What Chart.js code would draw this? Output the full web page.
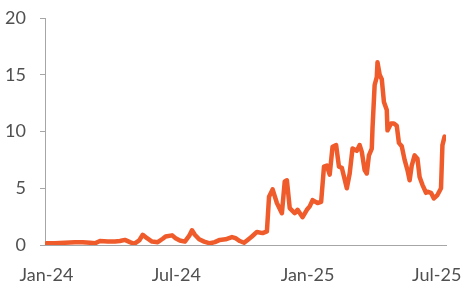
<!DOCTYPE html>
<html lang="en">
<head>
    <meta charset="UTF-8">
    <title>Series</title>
    <style>
        body, html {
            margin: 0;
            padding: 0;
            background: #ffffff;
            overflow: hidden;
        }
        .chart-container {
            width: 475px;
            height: 289px;
        }
    </style>
</head>
<body>
<div class="chart-container">
    <canvas id="myChart"></canvas>
</div>

<script src="https://cdn.jsdelivr.net/npm/chart.js"></script>
<script>

// days since 1 Jan 2024
const days = [0, 12, 26, 40, 51, 61, 68, 75, 86, 96, 103, 110, 117, 123, 130, 135, 141, 148, 156, 163,
    167, 176, 181, 187, 194, 200, 204, 208, 214, 221, 229, 236, 243, 251, 260, 265, 271, 277, 282, 288,
    295, 303, 309, 312, 317, 323, 330, 334, 337, 341, 348, 352, 359, 365, 369, 373, 380, 385, 389, 393,
    397, 401, 406, 410, 414, 421, 425, 429, 435, 439, 442, 446, 449, 452, 456, 457, 460, 463, 464, 467,
    470, 473, 477, 478, 483, 487, 491, 494, 498, 502, 506, 509, 512, 516, 520, 523, 527, 532, 534, 539,
    543, 548, 553, 555, 558];

const values = [0.15, 0.15, 0.2, 0.25, 0.25, 0.2, 0.15, 0.35, 0.3, 0.3, 0.35, 0.45, 0.25, 0.1, 0.4, 0.9, 0.6, 0.3, 0.25, 0.55,
    0.75, 0.85, 0.6, 0.4, 0.3, 0.8, 1.3, 0.9, 0.5, 0.3, 0.15, 0.25, 0.45, 0.5, 0.7, 0.6, 0.35, 0.2, 0.45, 0.75,
    1.15, 1.05, 1.2, 4.25, 4.9, 3.7, 2.8, 5.6, 5.7, 3.25, 2.8, 3.1, 2.45, 3.1, 3.4, 3.95, 3.7, 3.8, 6.9, 7.0,
    6.2, 8.66, 8.8, 6.9, 6.8, 5.0, 6.3, 8.5, 8.3, 8.8, 8.2, 6.6, 6.3, 7.9, 8.5, 10.3, 14.1, 14.8, 16.1, 15.0,
    14.6, 12.6, 11.9, 10.1, 10.7, 10.7, 10.5, 9.0, 8.7, 7.5, 6.6, 5.7, 7.0, 7.9, 7.6, 6.0, 5.3, 4.6, 4.7, 4.6,
    4.1, 4.4, 5.0, 8.8, 9.55];

// x tick positions (days) and their labels
const tickDays = [0, 182, 366, 547];
const tickLabels = ['Jan-24', 'Jul-24', 'Jan-25', 'Jul-25'];

const yTicks = [0, 5, 10, 15, 20];

const points = days.map((d, i) => ({ x: d, y: values[i] }));

const axisColor = '#a6a6a6';
const textColor = '#505050';
const fontFamily = 'Lato, "Liberation Sans", sans-serif';

const ctx = document.getElementById('myChart').getContext('2d');
new Chart(ctx, {
    type: 'line',
    data: {
        datasets: [{
            data: points,
            borderColor: '#ef5b2b',
            borderWidth: 4.5,
            pointRadius: 0,
            tension: 0,
            fill: false,
            borderJoinStyle: 'round',
            borderCapStyle: 'round'
        }]
    },
    options: {
        responsive: true,
        maintainAspectRatio: false,
        animation: false,
        layout: {
            padding: { left: 0, right: 29, top: 18, bottom: 0 }
        },
        plugins: {
            legend: { display: false },
            tooltip: { enabled: false }
        },
        scales: {
            x: {
                type: 'linear',
                min: -2,
                max: 560,
                afterBuildTicks: axis => {
                    axis.ticks = tickDays.map(v => ({ value: v }));
                },
                afterFit: axis => {
                    axis.height = 44;
                    axis.paddingLeft = 0;
                    axis.paddingRight = 0;
                },
                ticks: {
                    autoSkip: false,
                    maxRotation: 0,
                    padding: 11,
                    color: textColor,
                    font: { family: fontFamily, size: 18 },
                    callback: value => tickLabels[tickDays.indexOf(value)]
                },
                grid: { display: false },
                border: { display: true, color: axisColor, width: 1 }
            },
            y: {
                min: 0,
                max: 20,
                afterBuildTicks: axis => {
                    axis.ticks = yTicks.map(v => ({ value: v }));
                },
                afterFit: axis => {
                    axis.width = 45;
                    axis.paddingTop = 0;
                    axis.paddingBottom = 0;
                },
                ticks: {
                    padding: 14,
                    color: textColor,
                    font: { family: fontFamily, size: 18 }
                },
                grid: {
                    drawOnChartArea: false,
                    drawTicks: true,
                    tickLength: 5,
                    color: axisColor
                },
                border: { display: true, color: axisColor, width: 1 }
            }
        }
    }
});

</script>
</body>
</html>
